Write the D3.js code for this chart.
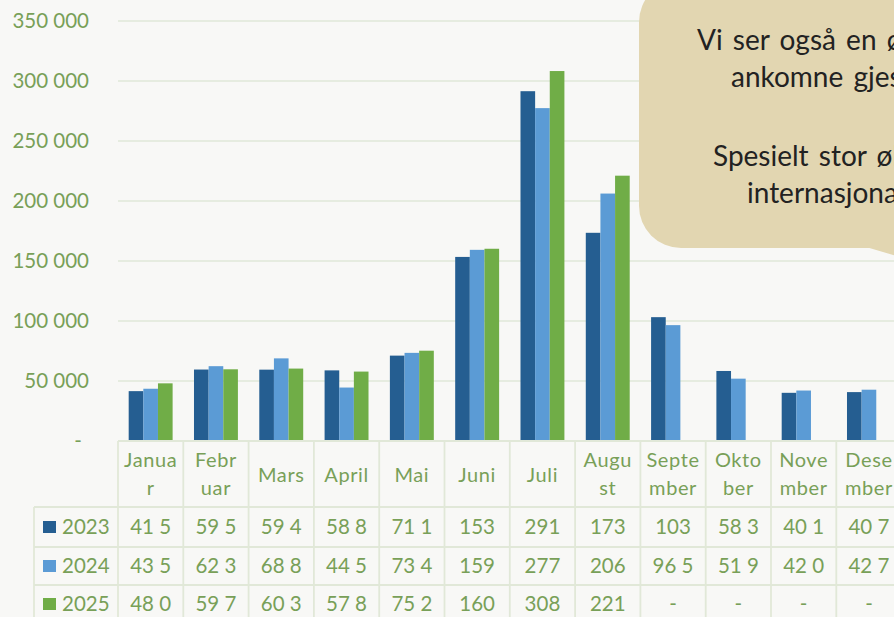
<!DOCTYPE html>
<html>
<head>
<meta charset="utf-8">
<script src="https://cdn.jsdelivr.net/npm/d3@7"></script>
<style>
  body { margin: 0; background: #f8f8f6; }
  svg { display: block; font-family: Lato, "Open Sans", sans-serif; }
</style>
</head>
<body>
<svg width="894" height="617"></svg>
<script>
var months = ["Januar", "Februar", "Mars", "April", "Mai", "Juni", "Juli", "August", "September", "Oktober", "November", "Desember"];
// header text as it wraps in the narrow table columns
var headerLines = [["Janua", "r"], ["Febr", "uar"], ["Mars"], ["April"], ["Mai"], ["Juni"], ["Juli"], ["Augu", "st"], ["Septe", "mber"], ["Okto", "ber"], ["Nove", "mber"], ["Dese", "mber"]];
var years = ["2023", "2024", "2025"];
var v2023 = [41550, 59550, 59450, 58850, 71150, 153400, 291500, 173500, 103200, 58350, 40150, 40750];
var v2024 = [43550, 62350, 68850, 44550, 73450, 159300, 277400, 206200, 96550, 51950, 42050, 42750];
var v2025 = [48050, 59750, 60350, 57850, 75250, 160200, 308300, 221100, null, null, null, null];
var yTicks = [0, 50000, 100000, 150000, 200000, 250000, 300000, 350000];
var calloutLines = ["Vi ser også en økning i antall", "ankomne gjester i 2025.", "", "Spesielt stor økning blant", "internasjonale gjester."];

var series = [v2023, v2024, v2025];
var colors = ["#255e91", "#5b9bd5", "#70ad47"];
var textGreen = "#78a058", gridCol = "#e1e8d8";

var svg = d3.select("svg");
var left = 118, colW = 65.3, y0 = 441;

var x = d3.scaleBand().domain(months).range([left, left + colW * 12]);
var x1 = d3.scaleBand().domain(years).range([0, x.bandwidth()]).paddingOuter(0.73);
var y = d3.scaleLinear().domain([0, 350000]).range([y0, 21]);

var fmt = function(v) {
    if (v == null) return "-";
    return d3.format(",")(v).replace(/,/g, " ").slice(0, 4).trim();
};

// gridlines
svg.append("g").selectAll("line")
    .data(yTicks.slice(1))
    .enter().append("line")
    .attr("x1", left).attr("x2", 894)
    .attr("y1", function(d){return y(d);}).attr("y2", function(d){return y(d);})
    .attr("stroke", gridCol).attr("stroke-width", 1.6);

// y labels
svg.append("g").selectAll("text")
    .data(yTicks)
    .enter().append("text")
    .attr("x", function(d){return d === 0 ? 78 : 89;})
    .attr("y", function(d){return y(d);})
    .attr("dy", "0.35em")
    .attr("text-anchor", function(d){return d === 0 ? "middle" : "end";})
    .attr("fill", textGreen)
    .style("font-size", "20.5px")
    .text(function(d){return d === 0 ? "-" : d3.format(",")(d).replace(/,/g, " ");});

// bars
var groups = svg.append("g").selectAll("g")
    .data(months)
    .enter().append("g")
    .attr("transform", function(d){return "translate(" + x(d) + ",0)";});

groups.selectAll("rect")
    .data(function(d, i){
        return series.map(function(s, j){return {year: years[j], value: s[i], k: j};});
    })
    .enter().filter(function(d){return d.value != null;}).append("rect")
    .attr("x", function(d){return x1(d.year);})
    .attr("width", x1.bandwidth())
    .attr("y", function(d){return y(d.value);})
    .attr("height", function(d){return y0 - y(d.value);})
    .attr("fill", function(d){return colors[d.k];});

// data table
var rowTops = [507, 547, 585, 625];
var table = svg.append("g").attr("stroke", gridCol).attr("stroke-width", 1.8);
table.append("line").attr("x1", left).attr("x2", 894).attr("y1", y0).attr("y2", y0);
rowTops.slice(0, 3).forEach(function(t){
    table.append("line").attr("x1", 34).attr("x2", 894).attr("y1", t).attr("y2", t);
});
table.append("line").attr("x1", 34).attr("x2", 34).attr("y1", rowTops[0]).attr("y2", 617);
months.forEach(function(m){
    table.append("line").attr("x1", x(m)).attr("x2", x(m)).attr("y1", y0).attr("y2", 617);
});

var hdr = svg.append("g").attr("fill", textGreen).style("font-size", "20px")
    .style("letter-spacing", "0.6px").attr("text-anchor", "middle");
months.forEach(function(m, i){
    var lines = headerLines[i];
    var cx = x(m) + x.bandwidth() / 2;
    lines.forEach(function(l, k){
        var base = lines.length === 1 ? 482 : 467 + k * 28;
        hdr.append("text").attr("x", cx).attr("y", base).text(l);
    });
});

var rowBase = [534, 573, 611];
years.forEach(function(yr, j){
    svg.append("rect")
        .attr("x", 43).attr("y", rowBase[j] - 13)
        .attr("width", 13).attr("height", 12)
        .attr("fill", colors[j]);
    svg.append("text")
        .attr("x", 62).attr("y", rowBase[j])
        .attr("fill", textGreen).style("font-size", "20.5px")
        .text(yr);
    svg.append("g").selectAll("text")
        .data(series[j])
        .enter().append("text")
        .attr("x", function(d, i){return x(months[i]) + x.bandwidth() / 2;})
        .attr("y", rowBase[j])
        .attr("text-anchor", "middle")
        .attr("fill", textGreen).style("font-size", "20.5px")
        .text(fmt);
});

// callout
var callout = svg.append("g");
callout.append("path")
    .attr("d", "M866,247 L900,257 L900,240 Z")
    .attr("fill", "#e2d6b1");
callout.append("rect")
    .attr("x", 639).attr("y", -20)
    .attr("width", 420).attr("height", 268)
    .attr("rx", 42)
    .attr("fill", "#e2d6b1");
var lineX = [697, 731, 0, 713, 747];
var lineY = [50, 87, 126, 166, 203];
callout.selectAll("text")
    .data(calloutLines)
    .enter().append("text")
    .attr("x", function(d, i){return lineX[i];})
    .attr("y", function(d, i){return lineY[i];})
    .attr("fill", "#222")
    .style("font-size", "28px")
    .style("word-spacing", "3px")
    .text(function(d){return d;});
</script>
</body>
</html>
